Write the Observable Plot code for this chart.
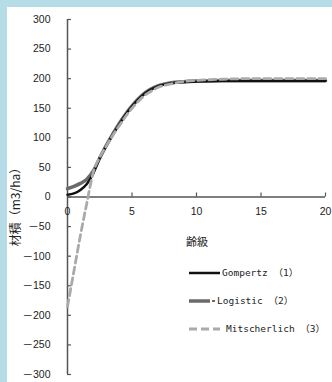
<!DOCTYPE html>
<html><head><meta charset="utf-8">
<script src="https://cdn.jsdelivr.net/npm/d3@7"></script>
<script src="https://cdn.jsdelivr.net/npm/@observablehq/plot@0.6"></script>
<style>
html,body{margin:0;padding:0;background:#fff;}
#wrap{position:relative;width:332px;height:382px;background:#b6dce8;overflow:hidden}
#panel{position:absolute;left:7px;top:7px;right:0;bottom:0;background:#fff}
#chart{position:absolute;left:0;top:0}
</style></head><body>
<div id="wrap"><div id="panel"></div><div id="chart"></div></div>
<script>
// Age class (齢級)
const ages = [0,0.5,1,1.5,2,2.5,3,3.5,4,4.5,5,5.5,6,6.5,7,8,9,10,12,14,16,18,20];
// Volume (m3/ha)
const gompertz     = [4, 6, 12, 22, 40, 66, 86, 105, 122, 139, 153, 165, 175, 182, 187, 192, 194, 195, 196, 196, 196, 196, 196];
const logistic     = [14, 18, 23, 30, 44, 66, 87, 106, 124, 140, 154, 166, 176, 183, 188, 193, 195, 196, 197, 197, 197, 197, 197];
const mitscherlich = [-185, -125, -65, -10, 42, 67, 86, 104, 120, 136, 150, 162, 172, 179, 185, 191, 195, 197, 199, 200, 200, 200, 200];
const seriesNames = ["Gompertz", "Logistic", "Mitscherlich"];
const seriesNums = ["（1）", "（2）", "（3）"];
const yTicks = [-300,-250,-200,-150,-100,-50,0,50,100,150,200,250,300];
const xTicks = [0,5,10,15,20];

const styles = {
  "Gompertz":     {stroke:"#111", strokeWidth:2.5, dash:null},
  "Logistic":     {stroke:"#6a6a6a", strokeWidth:3.5, dash:null},
  "Mitscherlich": {stroke:"#aaaaaa", strokeWidth:2.8, dash:"7,4"}
};
const allValues = [gompertz, logistic, mitscherlich];
const rows = seriesNames.flatMap((s, i) => ages.map((a, j) => ({series:s, age:a, v:allValues[i][j]})));
const drawOrder = ["Logistic", "Gompertz", "Mitscherlich"];

const fnt = "'Liberation Sans', 'Noto Sans CJK JP', sans-serif";
const mono = "'DejaVu Sans Mono', 'Noto Sans CJK JP', monospace";

const plot = Plot.plot({
  width:332, height:382,
  marginLeft:67, marginRight:7, marginTop:19, marginBottom:8,
  style:{background:"transparent", fontFamily:fnt, fontSize:"10.5px", color:"#222", overflow:"visible"},
  x:{domain:[0,20], axis:null},
  y:{domain:[-300,300], axis:null},
  marks:[
    Plot.ruleX([0], {y1:-300, y2:300, stroke:"#555", strokeWidth:1.5}),
    Plot.ruleY([0], {x1:0, x2:20, stroke:"#555", strokeWidth:1.5}),
    Plot.ruleY(yTicks, {y:d=>d, x1:0, x2:0, insetRight:-4, stroke:"#555", strokeWidth:1.2}),
    Plot.ruleX(xTicks.filter(d=>d>0), {x:d=>d, y1:0, y2:0, insetTop:-4, stroke:"#555", strokeWidth:1.2}),
    Plot.text(yTicks, {x:0, y:d=>d, text:d=>String(d).replace("-","－"), dx:-17, textAnchor:"end", fill:"#222"}),
    Plot.text(xTicks, {x:d=>d, y:0, text:d=>String(d), dy:15, fill:"#222"}),
    ...drawOrder.map(s => Plot.line(rows.filter(r=>r.series===s), {
      x:"age", y:"v", curve:"monotone-x",
      stroke:styles[s].stroke, strokeWidth:styles[s].strokeWidth,
      strokeDasharray:styles[s].dash || undefined
    }))
  ]
});
document.getElementById("chart").appendChild(plot);

const svg = d3.select(plot);
// axis titles
svg.append("text").attr("transform","translate(17,204) rotate(-90)")
  .attr("text-anchor","middle").attr("dominant-baseline","middle")
  .attr("font-family","'Noto Sans CJK JP', sans-serif").attr("font-size","12px").attr("fill","#222")
  .text("材積（m3/ha）");
svg.append("text").attr("x",197).attr("y",243)
  .attr("text-anchor","middle").attr("dominant-baseline","middle")
  .attr("font-family","'Noto Sans CJK JP', sans-serif").attr("font-size","11px").attr("fill","#222")
  .text("齢級");

// legend
const lg = svg.append("g");
const legendY = [273, 301, 329];
const lineEnd = [220, 210, 220];
const nameX = [222, 217, 226];
seriesNames.forEach((s, i) => {
  const st = styles[s];
  lg.append("line").attr("x1",189).attr("x2", lineEnd[i]).attr("y1",legendY[i]).attr("y2",legendY[i])
    .attr("stroke",st.stroke).attr("stroke-width",st.strokeWidth)
    .attr("stroke-dasharray", st.dash ? "8,4" : null);
  if (i === 1) lg.append("line").attr("x1",212).attr("x2",215).attr("y1",legendY[i]).attr("y2",legendY[i])
    .attr("stroke",st.stroke).attr("stroke-width",2);
  lg.append("text").attr("x",nameX[i]).attr("y",legendY[i])
    .attr("text-anchor","start")
    .attr("dominant-baseline","middle").attr("font-family",mono).attr("font-size","9.5px").attr("fill","#222")
    .text(s + " " + seriesNums[i]);
});
</script>
</body></html>
